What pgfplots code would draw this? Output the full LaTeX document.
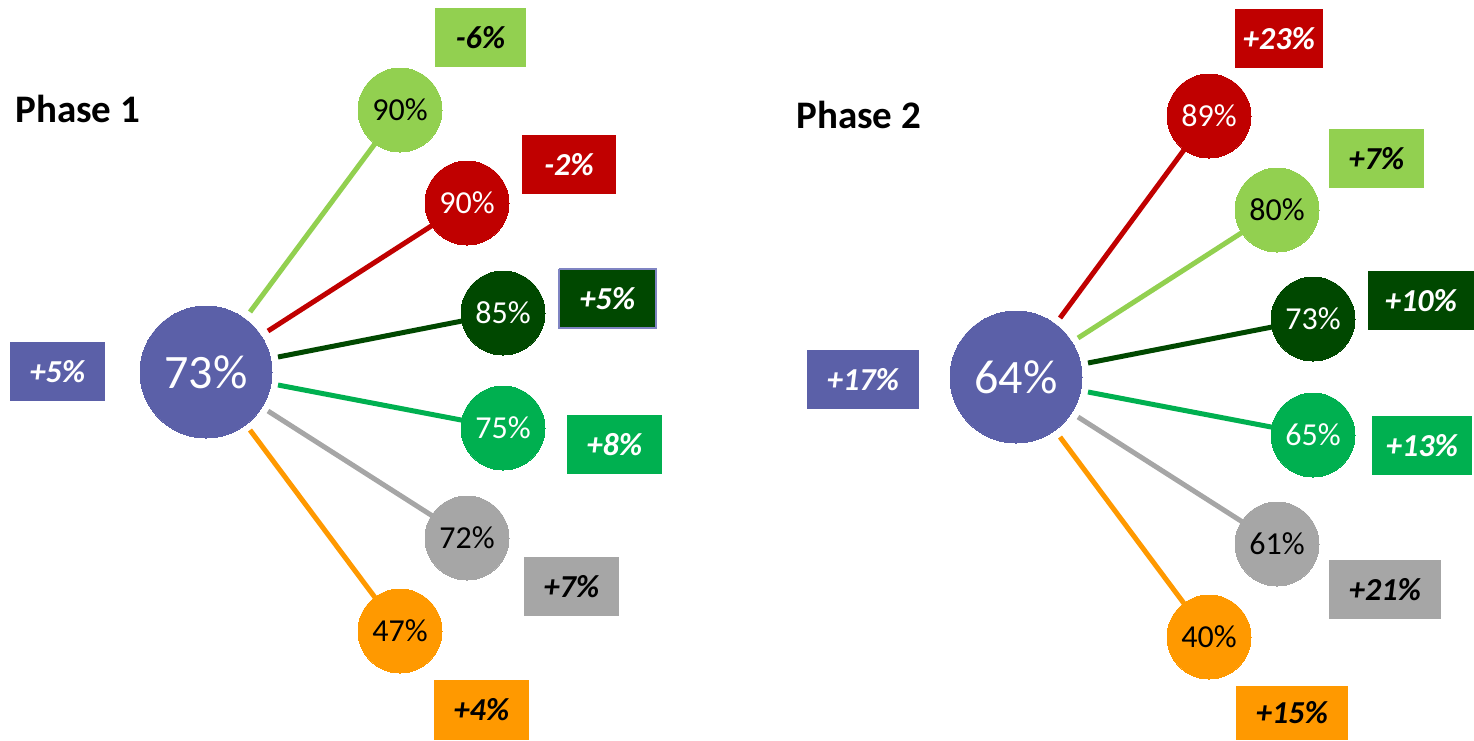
\documentclass[border=0pt]{standalone}
\usepackage{pgfplots}
\pgfplotsset{compat=1.18}
\usepackage{fontspec}
\setmainfont{Carlito}
\definecolor{cblue}{HTML}{5B60A8}
\definecolor{clgreen}{HTML}{92D050}
\definecolor{cred}{HTML}{C00000}
\definecolor{cdgreen}{HTML}{004800}
\definecolor{cgreen}{HTML}{00B050}
\definecolor{cgray}{HTML}{A6A6A6}
\definecolor{corange}{HTML}{FF9900}
\definecolor{cborder}{HTML}{7F84C2}
% spoke: colour, start x, start y, circle x, circle y, label, label colour
\newcommand{\spoke}[7]{%
  \addplot[#1, line width=2.5pt, forget plot] coordinates {(#2,#3) (#4,#5)};
  \addplot[only marks, mark=*, mark size=21pt, color=#1, mark options={fill=#1, draw=#1, line width=0pt},
    nodes near coords={#6},
    every node near coord/.append style={text=#7, font=\fontsize{16}{19}\selectfont, anchor=center, inner sep=0pt},
    forget plot] coordinates {(#4,#5)};
}
% label box: colour, x1, y1, x2, y2, label, label colour
\newcommand{\lbox}[7]{%
  \addplot[fill=#1, draw=none, forget plot] coordinates {(#2,#3) (#4,#3) (#4,#5) (#2,#5)};
  \node[text=#7, font=\fontsize{16}{19}\selectfont\bfseries\itshape, anchor=center, inner sep=0pt] at (axis cs:{0.5*(#2+#4)},{0.5*(#3+#5)}) {#6};
}
\begin{document}
\begin{tikzpicture}
\begin{axis}[
  width=737pt, height=370pt, scale only axis,
  xmin=0, xmax=1474, ymin=0, ymax=740,
  y dir=reverse, hide axis, clip=false,
]
% invisible frame so the picture spans the whole plotting area
\addplot[draw=none, forget plot] coordinates {(0,0) (1474,740)};
% ---------- Phase 1 ----------
\node[anchor=base west, font=\fontsize{19.5}{23}\selectfont\bfseries, inner sep=0pt] at (axis cs:15,122) {Phase 1};
\spoke{clgreen}{250}{312}{400}{110}{90\%}{black}
\spoke{cred}{268}{331}{467}{203}{90\%}{white}
\spoke{cdgreen}{278}{357}{503}{313}{85\%}{white}
\spoke{cgreen}{278}{385}{503}{428}{75\%}{white}
\spoke{cgray}{268}{411}{467}{538}{72\%}{black}
\spoke{corange}{250}{430}{400}{631}{47\%}{black}
\addplot[only marks, mark=*, mark size=33pt, color=cblue, mark options={fill=cblue, draw=cblue, line width=0pt},
  nodes near coords={73\%},
  every node near coord/.append style={text=white, font=\fontsize{24}{28}\selectfont, anchor=center, inner sep=0pt},
  forget plot] coordinates {(206,372)};
\lbox{cblue}{10}{342}{105}{401}{+5\%}{white}
\lbox{clgreen}{435}{8}{526}{67}{-6\%}{black}
\lbox{cred}{522}{135}{616}{194}{-2\%}{white}
\addplot[fill=cdgreen, draw=cborder, line width=0.8pt, forget plot] coordinates {(559,269) (656,269) (656,328) (559,328) (559,269)};
\node[text=white, font=\fontsize{16}{19}\selectfont\bfseries\itshape, anchor=center, inner sep=0pt] at (axis cs:607.5,298.5) {+5\%};
\lbox{cgreen}{567}{415}{662}{474}{+8\%}{white}
\lbox{cgray}{524}{557}{619}{616}{+7\%}{black}
\lbox{corange}{434}{680}{529}{740}{+4\%}{black}
% ---------- Phase 2 ----------
\node[anchor=base west, font=\fontsize{19.5}{23}\selectfont\bfseries, inner sep=0pt] at (axis cs:796,128) {Phase 2};
\spoke{cred}{1060}{318}{1209}{116}{89\%}{white}
\spoke{clgreen}{1078}{338}{1277}{210}{80\%}{black}
\spoke{cdgreen}{1088}{363}{1313}{319}{73\%}{white}
\spoke{cgreen}{1088}{392}{1313}{435}{65\%}{white}
\spoke{cgray}{1078}{417}{1277}{544}{61\%}{black}
\spoke{corange}{1060}{437}{1209}{637}{40\%}{black}
\addplot[only marks, mark=*, mark size=33pt, color=cblue, mark options={fill=cblue, draw=cblue, line width=0pt},
  nodes near coords={64\%},
  every node near coord/.append style={text=white, font=\fontsize{24}{28}\selectfont, anchor=center, inner sep=0pt},
  forget plot] coordinates {(1016,377)};
\lbox{cblue}{807}{350}{919}{409}{+17\%}{white}
\lbox{cred}{1235}{9}{1323}{68}{+23\%}{white}
\lbox{clgreen}{1329}{129}{1424}{188}{+7\%}{black}
\lbox{cdgreen}{1368}{271}{1474}{330}{+10\%}{white}
\lbox{cgreen}{1372}{416}{1472}{475}{+13\%}{white}
\lbox{cgray}{1329}{560}{1441}{619}{+21\%}{black}
\lbox{corange}{1236}{686}{1348}{740}{+15\%}{black}
\end{axis}
\end{tikzpicture}
\end{document}
